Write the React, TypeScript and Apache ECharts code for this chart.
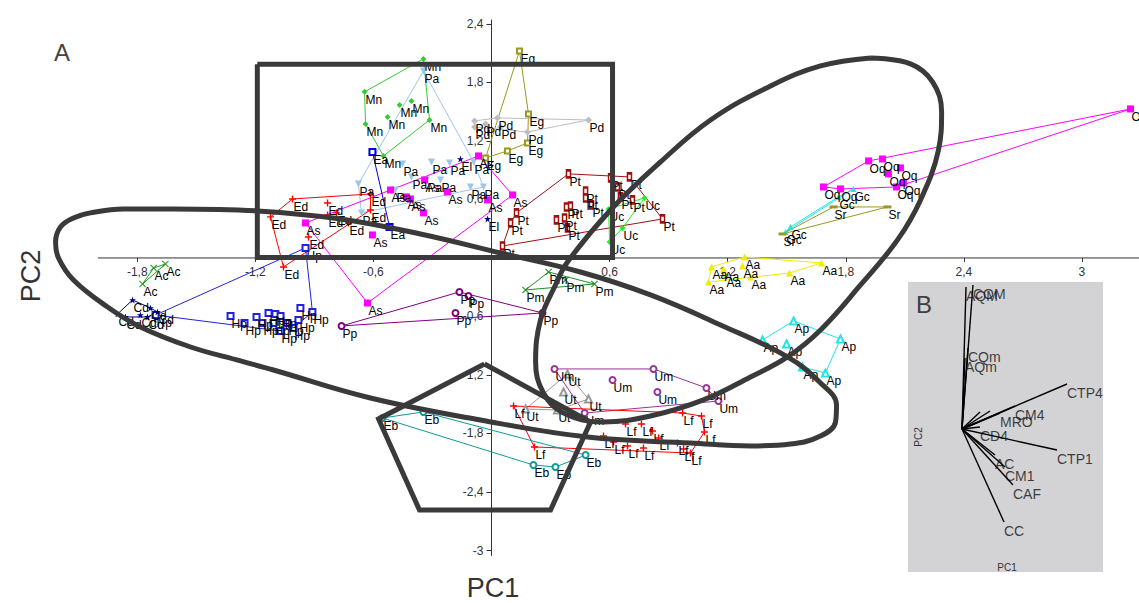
import React, { useEffect, useRef } from 'react';
import * as echarts from 'echarts';

type P = [number, number];

// ---- group scores (PC1, PC2) ----
const Mn: P[] = [[-0.346, 2.041], [-0.645, 1.703], [-0.640, 1.374], [-0.549, 1.046], [-0.315, 1.415], [-0.467, 1.569], [-0.407, 1.610], [-0.528, 1.446]];
const Pa: P[] = [[-0.346, 1.918], [-0.676, 0.759], [-0.661, 0.462], [-0.452, 0.964], [-0.305, 0.985], [-0.213, 0.974], [-0.091, 0.985], [-0.407, 0.831], [-0.330, 0.800], [-0.259, 0.800], [-0.107, 0.728], [-0.041, 0.728], [-0.488, 0.697]];
const As: P[] = [[-0.066, 1.046], [0.107, 0.646], [-0.630, -0.462], [-0.945, 0.359], [-0.513, 0.697], [-0.432, 0.626], [-0.412, 0.605], [-0.340, 0.800], [-0.224, 0.677], [-0.346, 0.462], [-0.605, 0.236], [-0.020, 0.595]];
const Ed: P[] = [[-1.123, 0.421], [-1.011, 0.605], [-0.833, 0.564], [-0.788, 0.462], [-0.833, 0.441], [-0.615, 0.656], [-0.615, 0.492], [-0.727, 0.359], [-0.930, 0.215], [-1.057, -0.092]];
const Eg: P[] = [[0.142, 2.123], [0.188, 1.477], [0.183, 1.179], [0.081, 1.097], [-0.030, 1.026]];
const Pd: P[] = [[-0.086, 1.405], [0.030, 1.436], [0.493, 1.415], [0.183, 1.292], [-0.086, 1.344], [0.046, 1.344], [-0.030, 1.374]];
const Pt: P[] = [[0.391, 0.862], [0.605, 0.821], [0.701, 0.831], [0.869, 0.400], [0.056, 0.123], [0.097, 0.359], [0.127, 0.462], [0.478, 0.687], [0.478, 0.615], [0.401, 0.533], [0.381, 0.523], [0.330, 0.390], [0.371, 0.410], [0.386, 0.308], [0.508, 0.544], [0.640, 0.728], [0.655, 0.626], [0.716, 0.595]];
const Uc: P[] = [[0.777, 0.615], [0.595, 0.503], [0.666, 0.308], [0.600, 0.164]];
const El: P[] = [[-0.020, 0.400], [-0.158, 1.015]];
const Ea: P[] = [[-0.605, 1.087], [-0.518, 0.318]];
const Hp: P[] = [[-0.945, 0.103], [-0.910, -0.554], [-1.326, -0.595], [-1.255, -0.667], [-1.194, -0.605], [-1.164, -0.667], [-1.133, -0.564], [-1.098, -0.574], [-1.072, -0.595], [-1.108, -0.667], [-1.037, -0.667], [-0.981, -0.636], [-0.971, -0.513], [-1.006, -0.718], [-1.072, -0.749], [-1.707, -0.585]];
const Cd: P[] = [[-1.824, -0.431], [-1.900, -0.574], [-1.860, -0.605], [-1.748, -0.605], [-1.697, -0.554], [-1.733, -0.513], [-1.784, -0.585]];
const Ac: P[] = [[-1.717, -0.103], [-1.657, -0.062], [-1.773, -0.267]];
const Pp: P[] = [[-0.762, -0.697], [-0.163, -0.349], [-0.117, -0.390], [-0.183, -0.564], [0.259, -0.564]];
const Pm: P[] = [[0.173, -0.328], [0.290, -0.144], [0.523, -0.267], [0.376, -0.226]];
const Aa: P[] = [[1.286, 0.010], [1.677, -0.051], [1.514, -0.154], [1.316, -0.195], [1.103, -0.246], [1.118, -0.092], [1.179, -0.113], [1.189, -0.174], [1.275, -0.082]];
const Ap: P[] = [[1.535, -0.646], [1.773, -0.831], [1.697, -1.179], [1.580, -1.118], [1.377, -0.841], [1.499, -0.882]];
const Oq: P[] = [[3.247, 1.528], [1.916, 0.995], [1.987, 1.015], [2.078, 0.923], [2.017, 0.862], [2.058, 0.728], [2.093, 0.769], [1.773, 0.708], [1.687, 0.728]];
const Gc: P[] = [[1.839, 0.708], [1.763, 0.626], [1.519, 0.318], [1.494, 0.267]];
const Sr: P[] = [[2.012, 0.523], [1.738, 0.523], [1.479, 0.246]];
const Um: P[] = [[0.320, -1.138], [0.823, -1.138], [1.092, -1.333], [1.153, -1.467], [0.473, -1.590], [0.615, -1.251], [0.843, -1.374]];
const Ut: P[] = [[0.386, -1.190], [0.366, -1.374], [0.493, -1.446], [0.335, -1.559], [0.173, -1.549]];
const Lf: P[] = [[0.112, -1.518], [0.971, -1.590], [1.067, -1.621], [1.082, -1.785], [1.011, -2.000], [0.218, -1.938], [0.681, -1.703], [0.762, -1.703], [0.818, -1.774], [0.849, -1.846], [0.569, -1.826], [0.620, -1.887], [0.691, -1.928], [0.772, -1.949], [0.945, -1.897], [0.976, -1.959]];
const Eb: P[] = [[-0.554, -1.641], [-0.346, -1.579], [0.478, -2.021], [0.325, -2.144], [0.213, -2.123]];

// ---- highlighted regions (outlines drawn on the plot) ----
const boxOutline: P[] = [[-1.19, 1.985], [0.615, 1.985], [0.615, 0.005], [-1.19, 0.005], [-1.19, 1.985]];
const pentagonOutline: P[] = [[-0.036, -1.087], [0.503, -1.682], [0.300, -2.585], [-0.366, -2.585], [-0.574, -1.651], [-0.036, -1.087]];
const ellipseLeft: P[] = [[-1.616, 0.503], [-1.189, 0.482], [-0.767, 0.400], [-0.361, 0.246], [0.046, 0.051], [0.452, -0.144], [0.808, -0.379], [1.164, -0.687], [1.504, -1.015], [1.672, -1.282], [1.753, -1.508], [1.748, -1.682], [1.672, -1.826], [1.519, -1.908], [1.316, -1.928], [1.011, -1.897], [0.488, -1.836], [-0.056, -1.662], [-0.615, -1.436], [-1.108, -1.149], [-1.275, -1.056], [-1.529, -0.913], [-1.784, -0.708], [-1.951, -0.503], [-2.124, -0.226], [-2.200, 0.0], [-2.215, 0.164], [-2.190, 0.318], [-2.124, 0.410], [-2.038, 0.462], [-1.870, 0.503], [-1.616, 0.503]];
const ellipseRight: P[] = [[1.926, 2.051], [2.129, 1.990], [2.241, 1.805], [2.287, 1.497], [2.271, 1.108], [2.180, 0.595], [2.063, 0.185], [1.875, -0.277], [1.672, -0.738], [1.504, -1.015], [1.316, -1.221], [1.077, -1.456], [0.808, -1.621], [0.569, -1.682], [0.366, -1.590], [0.264, -1.385], [0.224, -1.067], [0.249, -0.636], [0.325, -0.277], [0.386, -0.041], [0.605, 0.492], [0.859, 0.985], [1.113, 1.415], [1.418, 1.764], [1.672, 1.969], [1.926, 2.051]];

// ---- axes ----
const xTicks = [-1.8, -1.2, -0.6, 0.6, 1.2, 1.8, 2.4, 3];
const yTicks = [-3, -2.4, -1.8, -1.2, -0.6, 0.6, 1.2, 1.8, 2.4];
const xAxisExtent: P[] = [[-2.0, 0], [3.29, 0]];

// ---- panel B loadings ----
const loadingNames = ['COM', 'AQM', 'CQm', 'AQm', 'CTP4', 'CM4', 'MRO', 'CD4', 'CTP1', 'AC', 'CM1', 'CAF', 'CC'];
const loadingValues: P[] = [[0.11, 1.44], [0.04, 1.42], [0.06, 0.81], [0.03, 0.71], [1.05, 0.45], [0.53, 0.23], [0.38, 0.16], [0.18, 0.02], [0.95, -0.21], [0.33, -0.26], [0.43, -0.38], [0.51, -0.56], [0.42, -0.93]];
const loadingsUnlabelled: P[] = [[0.18, 0.17], [0.28, 0.18]];

const PLUS = 'path://M4,0H6V4H10V6H6V10H4V6H0V4H4Z';
const XCROSS = 'path://M1,0L5,4L9,0L10,1L6,5L10,9L9,10L5,6L1,10L0,9L4,5L0,1Z';
const STAR = 'path://M5,0L6.2,3.8L10,3.8L7,6.2L8.1,10L5,7.6L1.9,10L3,6.2L0,3.8L3.8,3.8Z';

const groups: { name: string; data: P[]; color: string; symbol: string; size: any; rotate?: number; noHull?: boolean }[] = [
  { name: 'Mn', data: Mn, color: '#33cc33', symbol: 'diamond', size: 6 },
  { name: 'Pa', data: Pa, color: '#9fc5e8', symbol: 'triangle', size: 7, rotate: 180 },
  { name: 'As', data: As, color: '#ff00ff', symbol: 'rect', size: 7 },
  { name: 'Ed', data: Ed, color: '#ff0000', symbol: PLUS, size: 7 },
  { name: 'Eg', data: Eg, color: '#999922', symbol: 'emptyRect', size: 5 },
  { name: 'Pd', data: Pd, color: '#bdbdbd', symbol: 'diamond', size: 7 },
  { name: 'Pt', data: Pt, color: '#a01010', symbol: 'emptyRect', size: [4, 7] },
  { name: 'Uc', data: Uc, color: '#22ee22', symbol: 'diamond', size: 6 },
  { name: 'El', data: El, color: '#000099', symbol: STAR, size: 7, noHull: true },
  { name: 'Ea', data: Ea, color: '#0000dd', symbol: 'emptyRect', size: 6 },
  { name: 'Hp', data: Hp, color: '#2222dd', symbol: 'emptyRect', size: 6 },
  { name: 'Cd', data: Cd, color: '#000080', symbol: STAR, size: 7 },
  { name: 'Ac', data: Ac, color: '#229922', symbol: XCROSS, size: 7 },
  { name: 'Pp', data: Pp, color: '#800080', symbol: 'emptyCircle', size: 6 },
  { name: 'Pm', data: Pm, color: '#228b22', symbol: XCROSS, size: 7 },
  { name: 'Aa', data: Aa, color: '#eeee00', symbol: 'triangle', size: 7 },
  { name: 'Ap', data: Ap, color: '#22e5e5', symbol: 'emptyTriangle', size: 7 },
  { name: 'Oq', data: Oq, color: '#ff00ff', symbol: 'rect', size: 7 },
  { name: 'Gc', data: Gc, color: '#22e5e5', symbol: 'triangle', size: 6 },
  { name: 'Sr', data: Sr, color: '#999922', symbol: 'rect', size: [8, 3] },
  { name: 'Um', data: Um, color: '#993399', symbol: 'emptyCircle', size: 6 },
  { name: 'Ut', data: Ut, color: '#999999', symbol: 'emptyTriangle', size: 7 },
  { name: 'Lf', data: Lf, color: '#ff0000', symbol: PLUS, size: 7 },
  { name: 'Eb', data: Eb, color: '#119999', symbol: 'emptyCircle', size: 6 },
];

function convexHull(pts: P[]): P[] {
  const p = [...pts].sort((a, b) => a[0] - b[0] || a[1] - b[1]);
  if (p.length < 3) return p;
  const cross = (o: P, a: P, b: P) => (a[0] - o[0]) * (b[1] - o[1]) - (a[1] - o[1]) * (b[0] - o[0]);
  const lower: P[] = [];
  for (const q of p) {
    while (lower.length >= 2 && cross(lower[lower.length - 2], lower[lower.length - 1], q) <= 0) lower.pop();
    lower.push(q);
  }
  const upper: P[] = [];
  for (let i = p.length - 1; i >= 0; i--) {
    const q = p[i];
    while (upper.length >= 2 && cross(upper[upper.length - 2], upper[upper.length - 1], q) <= 0) upper.pop();
    upper.push(q);
  }
  upper.pop();
  lower.pop();
  const h = lower.concat(upper);
  return [...h, h[0]];
}

const FONT = 'Liberation Sans';
const fmt = (v: number) => String(Math.round(v * 10) / 10).replace('.', ',');

// layout of the main plot (pixels)
const G_LEFT = 30;
const G_TOP = 20;
const G_BOTTOM = 47.6;
const X_MIN = -2.345;
const X_MAX = 3.29;
const Y_MIN = -3.05;
const Y_MAX = 2.44;

function buildOption(): any {
  const plotW = 1139 - G_LEFT;
  const plotH = 603 - G_TOP - G_BOTTOM;
  const zeroX = G_LEFT + ((0 - X_MIN) / (X_MAX - X_MIN)) * plotW;
  const zeroY = G_TOP + ((Y_MAX - 0) / (Y_MAX - Y_MIN)) * plotH;
  const xOffset = zeroY - (G_TOP + plotH); // negative: move bottom axis up to y = 0
  const yOffset = G_LEFT - zeroX; // negative: move left axis right to x = 0

  const series: any[] = [];
  series.push({
    type: 'line', xAxisIndex: 0, yAxisIndex: 0, data: xAxisExtent, symbol: 'none', silent: true,
    lineStyle: { color: '#333', width: 1 }, z: 1,
  });
  groups.forEach((g) => {
    if (!g.noHull) {
      series.push({
        type: 'line', xAxisIndex: 0, yAxisIndex: 0, data: convexHull(g.data), symbol: 'none',
        lineStyle: { color: g.color, width: 1 }, silent: true, z: 2,
      });
    }
    series.push({
      type: 'scatter', xAxisIndex: 0, yAxisIndex: 0, name: g.name, data: g.data,
      symbol: g.symbol, symbolSize: g.size, symbolRotate: g.rotate || 0,
      itemStyle: { color: g.color, borderColor: g.color, borderWidth: g.symbol.startsWith('empty') ? 1 : 0, opacity: 1 },
      label: {
        show: true, formatter: g.name, position: ['50%', '50%'], align: 'left', verticalAlign: 'top',
        offset: [1, 2], fontSize: 12, color: '#000', fontFamily: FONT,
      },
      z: 3, silent: true,
    });
  });
  const outline = (data: P[], smooth: boolean | number) => ({
    type: 'line', xAxisIndex: 0, yAxisIndex: 0, data, symbol: 'none', smooth, silent: true,
    lineStyle: { color: '#3a3a3a', width: 5, join: 'miter', cap: 'butt' }, z: 10,
  });
  series.push(outline(boxOutline, false));
  series.push(outline(pentagonOutline, false));
  series.push(outline(ellipseLeft, 0.4));
  series.push(outline(ellipseRight, 0.4));

  // panel B
  series.push({
    type: 'lines', coordinateSystem: 'cartesian2d', xAxisIndex: 1, yAxisIndex: 1, silent: true,
    data: [...loadingValues, ...loadingsUnlabelled].map((v) => ({ coords: [[0, 0], v] })),
    lineStyle: { color: '#000', width: 1.4, opacity: 1 }, z: 3,
  });
  series.push({
    type: 'scatter', xAxisIndex: 1, yAxisIndex: 1, silent: true, symbolSize: 1,
    itemStyle: { color: 'rgba(0,0,0,0)' },
    data: loadingValues.map((v, i) => ({ value: v, name: loadingNames[i] })),
    label: {
      show: true, formatter: (p: any) => p.name, position: ['50%', '50%'], align: 'left', verticalAlign: 'top',
      offset: [0, 2], fontSize: 14, color: '#111', fontFamily: FONT,
    },
    z: 4,
  });

  return {
    animation: false,
    textStyle: { fontFamily: FONT },
    grid: [
      { left: G_LEFT, right: 0, top: G_TOP, bottom: G_BOTTOM, containLabel: false },
      { left: 908, top: 282, width: 195, height: 290, show: true, backgroundColor: '#d3d3d6', borderWidth: 0 },
    ],
    xAxis: [
      {
        type: 'value', gridIndex: 0, min: X_MIN, max: X_MAX, position: 'bottom', offset: xOffset,
        splitLine: { show: false },
        axisLine: { show: false, onZero: false },
        axisTick: { show: true, length: 4, customValues: xTicks, lineStyle: { color: '#333' } },
        axisLabel: { customValues: xTicks, formatter: fmt, fontSize: 12, color: '#333', margin: 8, fontFamily: FONT },
      },
      { type: 'value', gridIndex: 1, min: -0.54, max: 1.41, show: false },
    ],
    yAxis: [
      {
        type: 'value', gridIndex: 0, min: Y_MIN, max: Y_MAX, position: 'left', offset: yOffset,
        splitLine: { show: false },
        axisLine: { show: true, onZero: false, lineStyle: { color: '#333', width: 1 } },
        axisTick: { show: true, length: 5, customValues: yTicks, lineStyle: { color: '#333' } },
        axisLabel: { customValues: yTicks, formatter: fmt, fontSize: 12, color: '#333', margin: 8, fontFamily: FONT },
      },
      { type: 'value', gridIndex: 1, min: -1.43, max: 1.47, show: false },
    ],
    graphic: [
      { type: 'text', x: 54, y: 40, style: { text: 'A', fontSize: 24, fontFamily: FONT, fill: '#444' } },
      { type: 'text', x: 493, y: 588, style: { text: 'PC1', fontSize: 27, fontFamily: FONT, fill: '#333', align: 'center', verticalAlign: 'middle', textAlign: 'center', textVerticalAlign: 'middle' } },
      { type: 'text', x: 31, y: 276, rotation: Math.PI / 2, style: { text: 'PC2', fontSize: 27, fontFamily: FONT, fill: '#333', align: 'center', verticalAlign: 'middle', textAlign: 'center', textVerticalAlign: 'middle' } },
      { type: 'text', x: 916, y: 292, z: 100, style: { text: 'B', fontSize: 24, fontFamily: FONT, fill: '#404040' } },
      { type: 'text', x: 1007, y: 567, z: 100, style: { text: 'PC1', fontSize: 10, fontFamily: FONT, fill: '#333', align: 'center', verticalAlign: 'middle', textAlign: 'center', textVerticalAlign: 'middle' } },
      { type: 'text', x: 918, y: 437, z: 100, rotation: Math.PI / 2, style: { text: 'PC2', fontSize: 10, fontFamily: FONT, fill: '#333', align: 'center', verticalAlign: 'middle', textAlign: 'center', textVerticalAlign: 'middle' } },
    ],
    series,
  };
}

export default function App() {
  const ref = useRef<HTMLDivElement>(null);
  useEffect(() => {
    if (!ref.current) return;
    const chart = echarts.init(ref.current, null, { renderer: 'svg' });
    chart.setOption(buildOption());
    return () => chart.dispose();
  }, []);
  return <div ref={ref} style={{ position: 'fixed', left: 0, top: 0, width: 1139, height: 603, background: '#fff' }} />;
}
